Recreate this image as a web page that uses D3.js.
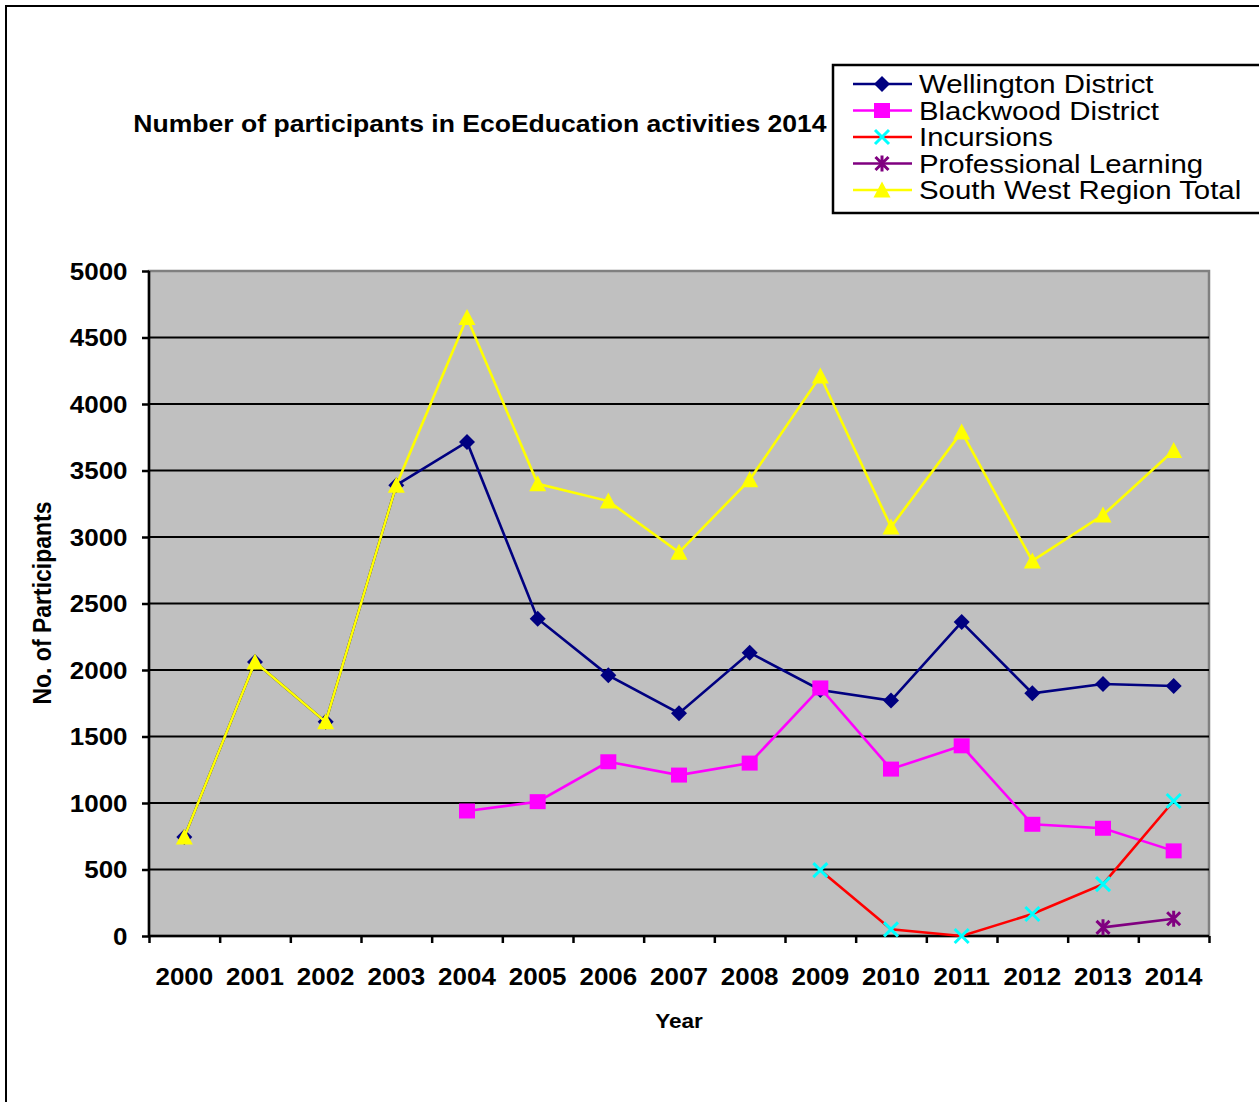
<!DOCTYPE html>
<html>
<head>
<meta charset="utf-8">
<script src="https://cdn.jsdelivr.net/npm/d3@7"></script>
<style>
  body { margin: 0; background: #fff; }
  svg { display: block; font-family: "Liberation Sans", Arial, sans-serif; }
</style>
</head>
<body>
<script>

const years = ["2000", "2001", "2002", "2003", "2004", "2005", "2006", "2007",
               "2008", "2009", "2010", "2011", "2012", "2013", "2014"];

const wellington   = [745, 2060, 1610, 3390, 3715, 2385, 1960, 1675, 2130, 1850, 1770, 2360, 1825, 1895, 1880];
const blackwood    = [null, null, null, null, 940, 1010, 1310, 1210, 1300, 1865, 1255, 1430, 840, 810, 640];
const incursions   = [null, null, null, null, null, null, null, null, null, 495, 50, 0, 165, 390, 1015];
const professional = [null, null, null, null, null, null, null, null, null, null, null, null, null, 65, 130];
const southWest    = [745, 2060, 1610, 3390, 4650, 3400, 3270, 2885, 3430, 4210, 3075, 3790, 2820, 3165, 3650];

const yTicks = [0, 500, 1000, 1500, 2000, 2500, 3000, 3500, 4000, 4500, 5000];

const seriesList = [
  { name: "Wellington District",      values: wellington,   line: "#000080", marker: "diamond" },
  { name: "Blackwood District",       values: blackwood,    line: "#ff00ff", marker: "square" },
  { name: "Incursions",               values: incursions,   line: "#ff0000", marker: "cross" },
  { name: "Professional Learning",    values: professional, line: "#800080", marker: "star" },
  { name: "South West Region Total",  values: southWest,    line: "#ffff00", marker: "triangle" }
];

const W = 1259, H = 1102;
const plot = { left: 149, right: 1209, top: 271, bottom: 936 };
const stretch = 1.13;   // text in the picture is a bit wider than tall

const svg = d3.select("body").append("svg")
  .attr("width", W)
  .attr("height", H);

// outer chart border
svg.append("rect")
  .attr("x", 6).attr("y", 6)
  .attr("width", W + 20).attr("height", H + 20)
  .attr("fill", "#fff")
  .attr("stroke", "#000")
  .attr("stroke-width", 2);

const x = d3.scaleBand().domain(years).range([plot.left, plot.right]);
const xEdge = d3.scaleLinear().domain([0, years.length]).range([plot.left, plot.right]);
const y = d3.scaleLinear().domain([0, 5000]).range([plot.bottom, plot.top]);
const cx = (i) => x(years[i]) + x.bandwidth() / 2;

// plot area
svg.append("rect")
  .attr("x", plot.left).attr("y", plot.top)
  .attr("width", plot.right - plot.left)
  .attr("height", plot.bottom - plot.top)
  .attr("fill", "#c0c0c0")
  .attr("stroke", "#808080")
  .attr("stroke-width", 2.5);

// gridlines
svg.append("g")
  .selectAll("line")
  .data(yTicks.filter(d => d > 0 && d < 5000))
  .enter()
  .append("line")
  .attr("x1", plot.left).attr("x2", plot.right)
  .attr("y1", d => y(d)).attr("y2", d => y(d))
  .attr("stroke", "#000")
  .attr("stroke-width", 2);

// y axis
const yAxis = svg.append("g")
  .attr("transform", "translate(" + plot.left + ",0)")
  .call(d3.axisLeft(y).tickValues(yTicks).tickSize(7).tickPadding(0).tickFormat(d3.format("d")));
yAxis.select(".domain").attr("stroke-width", 2.5).attr("d", "M0," + plot.top + "V" + plot.bottom);
yAxis.selectAll(".tick line").attr("stroke-width", 2.5);
yAxis.selectAll("text")
  .attr("x", -19)
  .attr("dy", "0.36em")
  .attr("transform", "scale(" + stretch + ",1)")
  .style("font-size", "23px")
  .style("font-weight", "bold")
  .attr("fill", "#000");

// x axis: boundary ticks
const xTicks = svg.append("g")
  .attr("transform", "translate(0," + plot.bottom + ")")
  .call(d3.axisBottom(xEdge).tickValues(d3.range(years.length + 1)).tickSize(7).tickFormat(""));
xTicks.select(".domain").attr("stroke-width", 2.5).attr("d", "M" + plot.left + ",0H" + plot.right);
xTicks.selectAll(".tick line").attr("stroke-width", 2.5);

// x axis: category labels (group is stretched, so tick positions are divided back)
const xLabels = svg.append("g")
  .call(d3.axisBottom(x).tickSize(0).tickPadding(0));
xLabels.select(".domain").remove();
xLabels.selectAll(".tick")
  .attr("transform", d => "translate(" + (cx(years.indexOf(d)) / stretch) + ",0)");
xLabels.selectAll("text")
  .attr("x", 0)
  .attr("y", 49)
  .attr("dy", 0)
  .style("font-size", "23px")
  .style("font-weight", "bold")
  .attr("fill", "#000");
xLabels.attr("transform", "translate(0," + plot.bottom + ") scale(" + stretch + ",1)");

// marker shapes
function markerPath(type) {
  if (type === "diamond") return "M0,-8L8,0L0,8L-8,0Z";
  if (type === "square") return "M-8,-7.5H8V7.5H-8Z";
  if (type === "triangle") return "M0,-8.5L8.5,7.5L-8.5,7.5Z";
  if (type === "cross") return "M-7,-7L7,7M-7,7L7,-7";
  return "M-6.5,-6.5L6.5,6.5M-6.5,6.5L6.5,-6.5M0,-8V8";
}
const markerFill = { diamond: "#000080", square: "#ff00ff", triangle: "#ffff00" };
const markerStroke = { cross: "#00ffff", star: "#800080" };

function drawMarker(g, type) {
  if (markerFill[type]) {
    g.append("path").attr("d", markerPath(type)).attr("fill", markerFill[type]);
  } else {
    g.append("path").attr("d", markerPath(type))
      .attr("fill", "none")
      .attr("stroke", markerStroke[type])
      .attr("stroke-width", 3);
  }
}

const line = d3.line()
  .defined(d => d.v !== null)
  .x(d => cx(d.i))
  .y(d => y(d.v));

seriesList.forEach(s => {
  const pts = s.values.map((v, i) => ({ v: v, i: i }));
  const g = svg.append("g");
  g.append("path")
    .datum(pts)
    .attr("d", line)
    .attr("fill", "none")
    .attr("stroke", s.line)
    .attr("stroke-width", 2.6);
  g.selectAll(".m")
    .data(pts.filter(d => d.v !== null))
    .enter()
    .append("g")
    .attr("transform", d => "translate(" + cx(d.i) + "," + y(d.v) + ")")
    .each(function() { drawMarker(d3.select(this), s.marker); });
});

// title
svg.append("text")
  .attr("transform", "translate(480,132) scale(" + stretch + ",1)")
  .attr("text-anchor", "middle")
  .style("font-size", "23.5px")
  .style("font-weight", "bold")
  .text("Number of participants in EcoEducation activities 2014");

// axis titles
svg.append("text")
  .attr("transform", "translate(679,1028) scale(" + stretch + ",1)")
  .attr("text-anchor", "middle")
  .style("font-size", "20px")
  .style("font-weight", "bold")
  .text("Year");

svg.append("text")
  .attr("transform", "translate(51,603) scale(" + stretch + ",1) rotate(-90)")
  .attr("text-anchor", "middle")
  .style("font-size", "23px")
  .style("font-weight", "bold")
  .text("No. of Participants");

// legend
const legend = svg.append("g");
legend.append("rect")
  .attr("x", 833).attr("y", 65)
  .attr("width", 440).attr("height", 148)
  .attr("fill", "#fff")
  .attr("stroke", "#000")
  .attr("stroke-width", 2.5);

const rowY = d3.scaleLinear().domain([0, 4]).range([84, 190]);
seriesList.forEach((s, i) => {
  const row = legend.append("g").attr("transform", "translate(0," + rowY(i) + ")");
  row.append("line")
    .attr("x1", 853).attr("x2", 912)
    .attr("stroke", s.line)
    .attr("stroke-width", 2.6);
  drawMarker(row.append("g").attr("transform", "translate(882,0)"), s.marker);
  row.append("text")
    .attr("transform", "translate(919,9) scale(" + stretch + ",1)")
    .style("font-size", "26px")
    .text(s.name);
});

</script>
</body>
</html>
